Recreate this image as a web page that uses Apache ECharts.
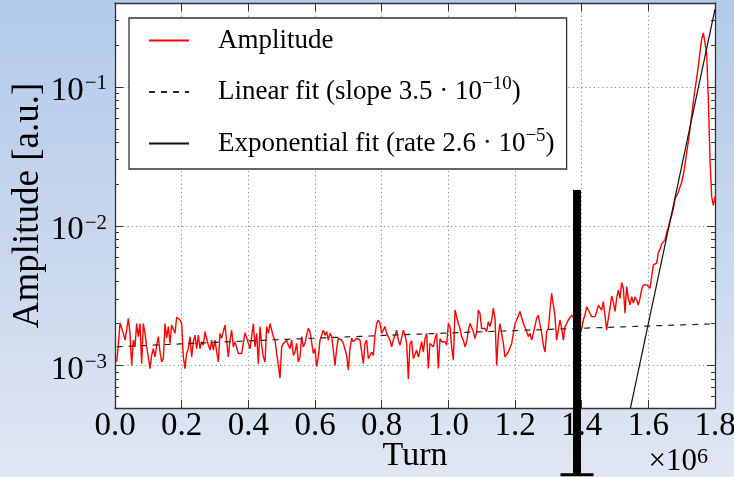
<!DOCTYPE html>
<html>
<head>
<meta charset="utf-8">
<script src="https://cdn.jsdelivr.net/npm/echarts@6/dist/echarts.min.js"></script>
<style>
  html, body { margin: 0; padding: 0; }
  #chart { width: 734px; height: 477px; }
</style>
</head>
<body>
<div id="chart"></div>
<script>
// Sampling grid of the amplitude record, in turns
const turnStart = 5000;
const turnStep = 5000;

// Measured amplitude per sample, in units of 1e-3 a.u.
const amplitudeMilli = [
  1.06, 1.40, 2.02, 2.00, 1.70, 1.52, 1.79, 2.18, 1.70, 1.00,
  1.52, 1.36, 2.00, 1.61, 2.00, 1.03, 2.00, 1.70, 1.36, 1.15,
  0.95, 1.18, 1.32, 1.15, 1.40, 1.61, 1.25, 1.06, 1.12, 2.00,
  1.57, 1.90, 1.44, 1.95, 2.00, 1.70, 2.22, 2.24, 2.12, 2.00,
  1.15, 0.95, 1.22, 1.32, 1.61, 1.15, 1.48, 1.65, 1.32, 1.65,
  1.32, 1.48, 1.40, 1.75, 1.70, 1.40, 1.29, 1.52, 1.29, 1.52,
  1.25, 1.06, 1.70, 1.57, 1.52, 1.95, 1.95, 1.15, 1.52, 1.79,
  1.36, 1.48, 1.52,
  1.22, 1.22, 1.22, 1.25, 1.72, 1.75, 1.44, 1.32, 1.61, 2.00,
  1.36, 1.70, 1.03, 1.90, 1.40, 1.15, 1.06, 1.90, 1.70, 2.00,
  1.95, 1.61, 1.52, 1.22, 1.00, 0.81, 1.36, 1.44, 1.48, 1.52,
  1.40, 1.32, 1.52, 1.18, 1.25, 1.44, 1.06, 1.15, 1.61, 1.36,
  1.44, 1.65, 1.85, 1.75, 1.79, 1.22, 1.32, 0.98, 1.15, 1.52,
  1.52, 1.79, 1.65, 1.75, 1.52, 1.70, 1.61, 1.29, 1.00, 1.32,
  1.57, 1.61, 1.52, 1.44, 1.44, 1.18, 0.93, 1.32, 1.57, 1.48,
  1.44, 1.57, 1.52,
  1.52, 1.48, 1.03, 1.44, 1.52, 1.12, 1.18, 1.25, 1.18, 1.65,
  2.00, 2.12, 2.00, 1.70, 1.65, 1.90, 1.70, 1.70, 1.52, 1.36,
  1.52, 1.65, 1.79, 1.52, 1.40, 1.44, 1.79, 1.65, 1.44, 0.80,
  1.44, 1.50, 1.12, 1.15, 1.29, 1.15, 1.29, 1.48, 1.25, 1.56,
  1.70, 0.95, 1.44, 1.48, 1.36, 1.56, 1.70, 0.95, 1.56, 1.48,
  1.44, 1.48, 1.40, 2.00, 1.90, 1.36, 1.09, 2.50, 2.44, 2.00,
  1.84, 1.61, 1.52, 1.36, 1.48, 1.79, 2.00, 1.95, 1.75, 1.56,
  1.75, 2.50, 2.37, 1.84,
  1.90, 1.84, 1.75, 2.06, 1.90, 2.12, 2.58, 2.18, 1.00, 1.65,
  2.00, 2.00, 1.44, 1.15, 1.18, 1.25, 1.29, 1.44, 1.48, 2.00,
  2.12, 2.18, 2.44, 2.37, 2.00, 2.00, 1.75, 1.61, 1.70, 1.52,
  1.70, 1.75, 2.18, 2.30, 2.24, 1.70, 1.40, 1.25, 1.75, 1.84,
  2.50, 3.29, 3.20, 2.24, 1.52, 1.79, 2.12, 1.84, 1.52, 1.90,
  2.00, 2.12, 2.18, 2.30, 2.24, 2.12, 2.18, 2.00, 1.65, 1.84,
  2.12, 2.30, 2.64, 2.70, 2.37, 2.24, 2.18, 2.24, 2.44, 2.70,
  2.79, 2.50, 2.87, 2.79,
  1.80, 2.18, 2.58, 3.15, 2.87, 2.44, 3.03, 3.48, 3.03, 3.93,
  3.58, 2.37, 3.68, 3.03, 2.72, 3.12, 2.80, 3.10, 2.95, 2.72,
  3.03, 3.53, 3.79, 3.89, 3.79, 3.89, 3.58, 3.53, 5.27, 5.42,
  5.42, 6.46, 6.82, 7.46, 7.71, 7.97, 9.0, 9.8, 10.9, 11.9,
  13.4, 15.6, 16.6, 17.5, 19.1, 20.6, 23.4, 27.5, 33.9, 40.4,
  49.8, 62.2, 77.6, 96.5, 115, 142, 177, 221, 244, 244,
  175, 81, 29.9, 16.3, 14.1, 16.3
];

// Fit parameters (slope in a.u. per turn, growth rate per turn)
const linearFit = { intercept: 1.36e-3, slope: 3.5e-10 };
const expFit = { rate: 2.6e-5, refTurn: 1.662e6, refAmp: 1e-2 };
const expFitTurns = [1.5e6, 1.8e6];

// Axes
const xRange = [0, 1.8e6];
const xInterval = 2e5;
const yRange = [4.95e-4, 0.4];
const yMajorTicks = [1e-3, 1e-2, 1e-1];
const yMinorTicks = [
  6e-4, 7e-4, 8e-4, 9e-4,
  2e-3, 3e-3, 4e-3, 5e-3, 6e-3, 7e-3, 8e-3, 9e-3,
  2e-2, 3e-2, 4e-2, 5e-2, 6e-2, 7e-2, 8e-2, 9e-2,
  2e-1, 3e-1
];

// Vertical marker bar (turn, top amplitude, foot amplitude)
const marker = { turn: 1.386e6, top: 0.0182, foot: 1.64e-4 };

const seriesNames = ['Amplitude', 'Linear fit', 'Exponential fit'];
const legendText = {
  'Amplitude': '{n|Amplitude}',
  'Linear fit': '{n|Linear fit (slope 3.5 \u00b7 10}{s|\u221210}{n|)}',
  'Exponential fit': '{n|Exponential fit (rate 2.6 \u00b7 10}{s|\u22125}{n|)}'
};

const SERIF = '"Liberation Serif", "Times New Roman", serif';
const FRAME = '#333';

const amplitudeData = amplitudeMilli.map((v, i) => [turnStart + i * turnStep, v * 1e-3]);
const linearData = amplitudeData.map(p => [p[0], linearFit.intercept + linearFit.slope * p[0]]);
const expData = expFitTurns.map(t => [t, expFit.refAmp * Math.exp(expFit.rate * (t - expFit.refTurn))]);

function xAxisBase(extra) {
  return Object.assign({
    type: 'value', min: xRange[0], max: xRange[1], interval: xInterval,
    axisLine: { show: true, onZero: false, lineStyle: { color: FRAME, width: 1.3 } },
    axisTick: { show: true, inside: true, length: 8, lineStyle: { color: FRAME, width: 1 } },
    splitLine: { show: false },
    axisLabel: { show: false }
  }, extra);
}

function yAxisBase(extra) {
  return Object.assign({
    type: 'log', logBase: 10, min: yRange[0], max: yRange[1],
    axisLine: { show: false },
    axisTick: { show: true, inside: true, length: 8, customValues: yMajorTicks, lineStyle: { color: FRAME, width: 1 } },
    splitLine: { show: false },
    axisLabel: { show: false }
  }, extra);
}

const chart = echarts.init(document.getElementById('chart'), null, { renderer: 'canvas' });

chart.setOption({
  animation: false,
  backgroundColor: {
    type: 'linear', x: 0, y: 0, x2: 0, y2: 1,
    colorStops: [
      { offset: 0, color: '#b2cbea' },
      { offset: 0.55, color: '#cad8ee' },
      { offset: 1, color: '#e0e7f2' }
    ]
  },
  grid: {
    left: 115, right: 19, top: 3, bottom: 69,
    outerBoundsMode: 'none', containLabel: false,
    show: true, backgroundColor: '#ffffff', borderWidth: 0
  },
  legend: {
    orient: 'vertical', left: 129, top: 18,
    padding: [9, 12, 12, 19],
    itemWidth: 40, itemHeight: 14, itemGap: 21,
    backgroundColor: '#ffffff', borderColor: FRAME, borderWidth: 1.3, borderRadius: 0,
    selectedMode: false,
    itemStyle: { opacity: 0 },
    data: seriesNames,
    formatter: name => legendText[name],
    textStyle: {
      color: '#000', fontFamily: SERIF, fontSize: 27, padding: [0, 0, 0, 24],
      rich: {
        n: { fontFamily: SERIF, fontSize: 27, lineHeight: 34, color: '#000' },
        s: { fontFamily: SERIF, fontSize: 19, lineHeight: 14, verticalAlign: 'top', color: '#000' }
      }
    }
  },
  graphic: [{
    type: 'text', right: 26, top: 446, z: 10,
    style: {
      text: '{b|\u00d710}{s|6}',
      fill: '#000',
      rich: {
        b: { fontFamily: SERIF, fontSize: 31, lineHeight: 32, fill: '#000' },
        s: { fontFamily: SERIF, fontSize: 22, lineHeight: 17, verticalAlign: 'top', fill: '#000' }
      }
    }
  }],
  xAxis: [
    xAxisBase({
      position: 'bottom',
      name: 'Turn', nameLocation: 'middle', nameGap: 31, nameMoveOverlap: false,
      nameTextStyle: { fontFamily: SERIF, fontSize: 34, color: '#000' },
      splitLine: { show: true, lineStyle: { color: '#8a8a8a', width: 1, type: [1.2, 3] } },
      axisLabel: {
        show: true, margin: 2, color: '#000', fontFamily: SERIF, fontSize: 33,
        formatter: v => (v / 1e6).toFixed(1)
      }
    }),
    xAxisBase({ position: 'top' })
  ],
  yAxis: [
    yAxisBase({
      position: 'left',
      axisLine: { show: true, lineStyle: { color: FRAME, width: 1.3 } },
      name: 'Amplitude [a.u.]', nameLocation: 'middle', nameGap: 68, nameRotate: 90, nameMoveOverlap: false,
      nameTextStyle: { fontFamily: SERIF, fontSize: 37, color: '#000' },
      splitLine: { show: true, lineStyle: { color: '#8a8a8a', width: 1, type: [1.2, 3] } },
      axisLabel: {
        show: true, margin: 8, customValues: yMajorTicks,
        hideOverlap: false,
        padding: [9, 0, 0, 0],
        formatter: v => '{b|10}{s|\u2212' + Math.round(-Math.log10(v)) + '}',
        rich: {
          b: { fontFamily: SERIF, fontSize: 33, lineHeight: 36, color: '#000' },
          s: { fontFamily: SERIF, fontSize: 21, lineHeight: 21, verticalAlign: 'top', padding: [0, 0, 0, 1], color: '#000' }
        }
      }
    }),
    yAxisBase({
      position: 'left',
      axisTick: { show: true, inside: true, length: 4, customValues: yMinorTicks, lineStyle: { color: FRAME, width: 1 } }
    }),
    yAxisBase({
      position: 'right',
      axisLine: { show: true, lineStyle: { color: FRAME, width: 1.3 } }
    }),
    yAxisBase({
      position: 'right',
      axisTick: { show: true, inside: true, length: 4, customValues: yMinorTicks, lineStyle: { color: FRAME, width: 1 } }
    })
  ],
  series: [
    {
      name: 'Amplitude', type: 'line', xAxisIndex: 0, yAxisIndex: 0,
      data: amplitudeData, showSymbol: false, symbol: 'none',
      lineStyle: { color: '#ff0000', width: 1.4 }, itemStyle: { color: '#ff0000' },
      z: 3
    },
    {
      name: 'Linear fit', type: 'line', xAxisIndex: 0, yAxisIndex: 0,
      data: linearData, showSymbol: false, symbol: 'none',
      lineStyle: { color: '#222', width: 1.2, type: [6, 6] }, itemStyle: { color: '#222' },
      z: 4
    },
    {
      name: 'Exponential fit', type: 'line', xAxisIndex: 0, yAxisIndex: 0,
      data: expData, showSymbol: false, symbol: 'none',
      lineStyle: { color: '#111', width: 1.2 }, itemStyle: { color: '#111' },
      z: 4
    },
    {
      name: 'marker', type: 'custom', xAxisIndex: 0, yAxisIndex: 0,
      clip: false, silent: true, z: 20,
      data: [[marker.turn, marker.top, marker.foot]],
      encode: { x: 0, y: [1, 2] },
      renderItem: (params, api) => {
        const top = api.coord([api.value(0), api.value(1)]);
        const foot = api.coord([api.value(0), api.value(2)]);
        return {
          type: 'group',
          children: [
            { type: 'rect', shape: { x: top[0] - 4, y: top[1], width: 8, height: foot[1] - top[1] }, style: { fill: '#000' } },
            { type: 'rect', shape: { x: foot[0] - 16.5, y: foot[1] - 1.5, width: 33, height: 3 }, style: { fill: '#000' } }
          ]
        };
      }
    }
  ]
});
</script>
</body>
</html>
